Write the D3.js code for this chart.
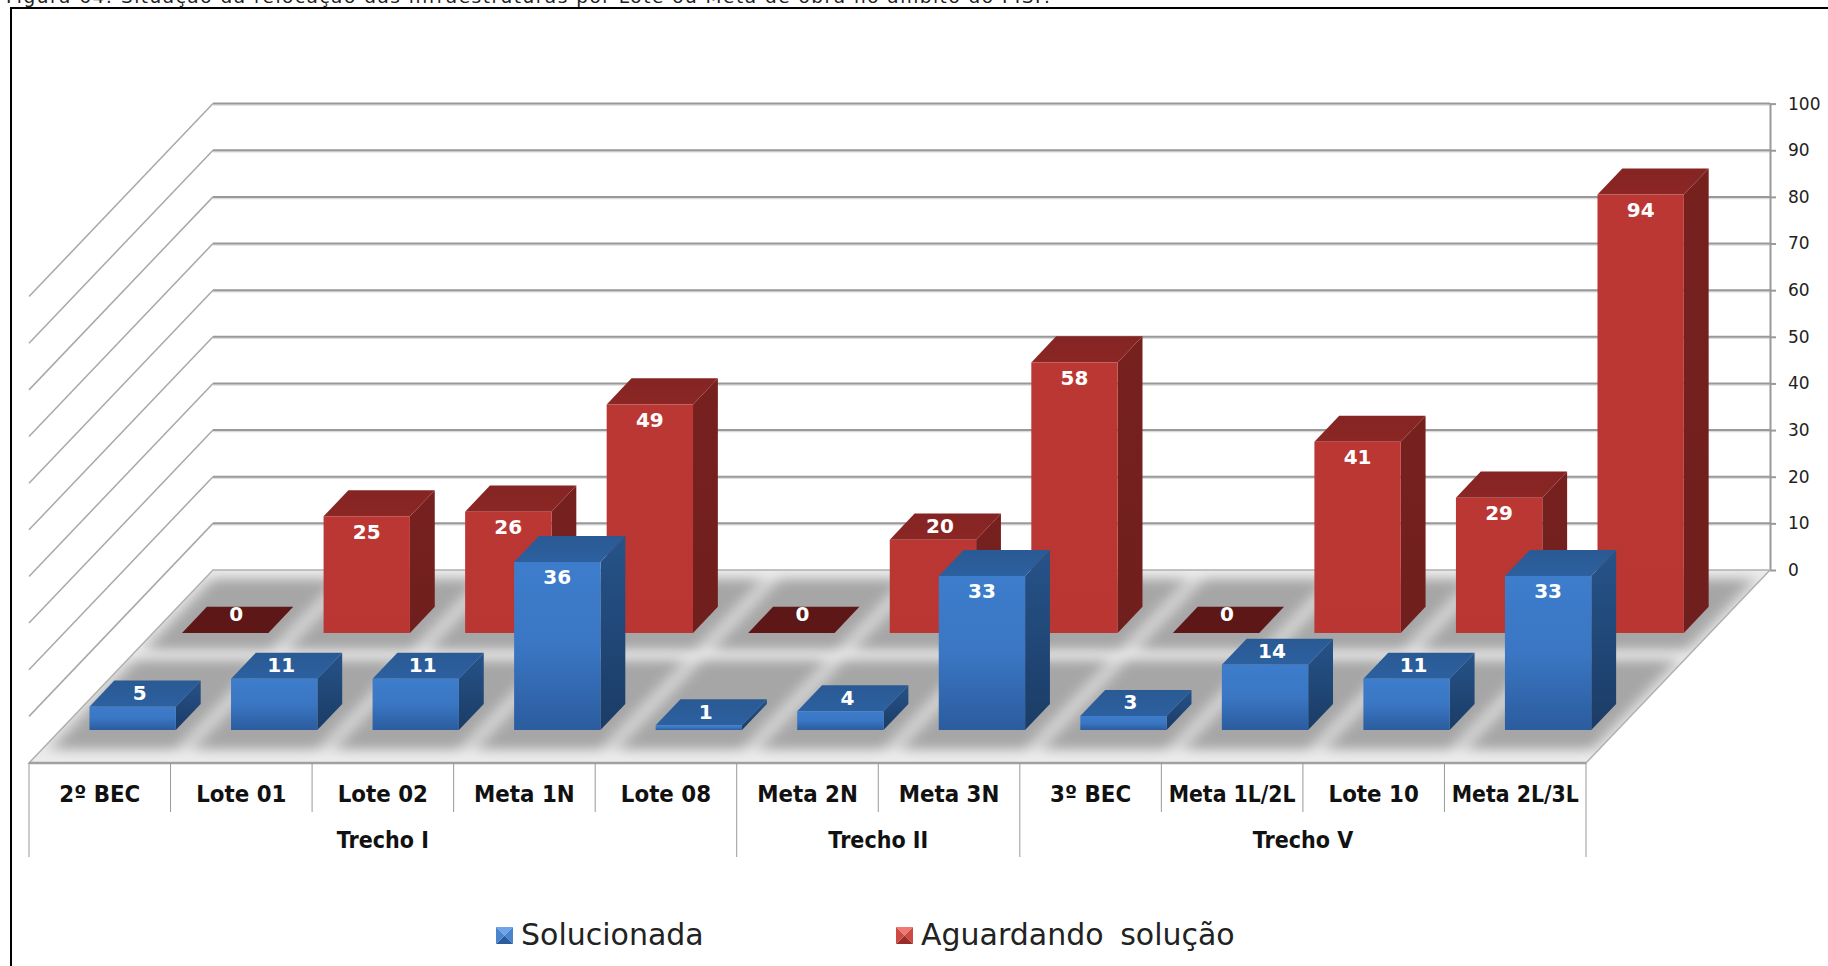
<!DOCTYPE html>
<html>
<head>
<meta charset="utf-8">
<script src="https://cdn.jsdelivr.net/npm/d3@7"></script>
<style>
html, body { margin: 0; padding: 0; background: #fff; overflow: hidden; }
text { font-family: "DejaVu Sans", sans-serif; }
</style>
</head>
<body>
<div id="chart"></div>
<script>
// Données
const categories = ["2º BEC", "Lote 01", "Lote 02", "Meta 1N", "Lote 08", "Meta 2N", "Meta 3N", "3º BEC", "Meta 1L/2L", "Lote 10", "Meta 2L/3L"];
const groups = ["Trecho I", "Trecho II", "Trecho V"];
const groupSizes = [5, 2, 4];
const solucionada = [5, 11, 11, 36, 1, 4, 33, 3, 14, 11, 33];
const aguardando = [0, 25, 26, 49, 0, 20, 58, 0, 41, 29, 94];
const yTicks = [0, 10, 20, 30, 40, 50, 60, 70, 80, 90, 100];
const title = "Figura 64: Situação da relocação das infraestruturas por Lote ou Meta de obra no âmbito do PISF.";

const width = 1828, height = 966;

const svg = d3.select("#chart").append("svg")
    .attr("width", width)
    .attr("height", height)
    .style("display", "block");

// Échelles : catégorie, profondeur du plancher, valeur
const xCat = d3.scaleLinear().domain([0, categories.length]).range([29, 1586]);
const depthX = d3.scaleLinear().domain([0, 1]).range([0, 184]);
const depthY = d3.scaleLinear().domain([0, 1]).range([763, 570]);
const yVal = d3.scaleLinear().domain([0, 100]).range([0, 466.4]);

// u = catégorie, w = profondeur (0 devant, 1 fond), v = valeur
function pt(u, w, v) {
    return [xCat(u) + depthX(w), depthY(w) - yVal(v)];
}
const line = d3.line();
const poly = pts => line(pts) + "Z";

const defs = svg.append("defs");
defs.append("filter").attr("id", "blur").attr("x", "-30%").attr("y", "-30%").attr("width", "160%").attr("height", "160%")
    .append("feGaussianBlur").attr("stdDeviation", "8 6");
defs.append("clipPath").attr("id", "floorClip")
    .append("path").attr("d", poly([pt(0, 0, 0), pt(11, 0, 0), pt(11, 1, 0), pt(0, 1, 0)]));

function gradient(id, stops) {
    const g = defs.append("linearGradient").attr("id", id)
        .attr("x1", 0).attr("y1", 0).attr("x2", 0).attr("y2", 1);
    stops.forEach((c, i) => g.append("stop").attr("offset", i / (stops.length - 1)).attr("stop-color", c));
}
gradient("blueFront", ["#3d7dcc", "#3a76c3", "#2b5c9e"]);
gradient("blueSide", ["#265389", "#1b3c66"]);
gradient("blueTop", ["#2a5a94", "#2c609f"]);
gradient("redFront", ["#bb3733", "#b93632"]);
gradient("redSide", ["#77211f", "#6f1f1d"]);
gradient("redTop", ["#842423", "#8b2725"]);

// Titre coupé en haut de l'image
svg.append("text")
    .attr("x", 6).attr("y", 3)
    .attr("font-size", 18.5)
    .attr("textLength", 1044)
    .attr("fill", "#222")
    .text(title);

// Cadre noir
svg.append("path")
    .attr("d", line([[11, height], [11, 8], [width, 8]]))
    .attr("fill", "none")
    .attr("stroke", "#000")
    .attr("stroke-width", 2);

// Grille : murs du fond et de gauche
const grid = svg.append("g").selectAll("g")
    .data(yTicks.filter(d => d > 0))
    .enter().append("g");
grid.append("path")
    .attr("d", d => line([pt(0, 0, d), pt(0, 1, d)]))
    .attr("fill", "none").attr("stroke", "#a8a8a8").attr("stroke-width", 1.5);
grid.append("path")
    .attr("d", d => line([[pt(0, 1, d)[0], pt(0, 1, d)[1] + 1.5], [pt(11, 1, d)[0], pt(11, 1, d)[1] + 1.5]]))
    .attr("fill", "none").attr("stroke", "#dcdcdc").attr("stroke-width", 1.5);
grid.append("path")
    .attr("d", d => line([pt(0, 1, d), pt(11, 1, d)]))
    .attr("fill", "none").attr("stroke", "#999").attr("stroke-width", 2);

// Axe des valeurs à droite
const yAxisScale = d3.scaleLinear().domain([0, 100]).range([depthY(1), depthY(1) - yVal(100)]);
const yAxis = svg.append("g")
    .attr("transform", `translate(${pt(11, 1, 0)[0]},0)`)
    .call(d3.axisRight(yAxisScale).tickValues(yTicks).tickSize(6).tickSizeOuter(0).tickPadding(12));
yAxis.selectAll("path, line").attr("stroke", "#999").attr("stroke-width", 2);
yAxis.selectAll("text").attr("font-size", 17).attr("fill", "#222").attr("font-family", "DejaVu Sans");

// Plancher
const floor = svg.append("g");
floor.append("path")
    .attr("d", poly([pt(0, 0, 0), pt(11, 0, 0), pt(11, 1, 0), pt(0, 1, 0)]))
    .attr("fill", "#ececec");

const rows = [
    { name: "Aguardando solução", values: aguardando, w0: 0.674, w1: 0.809, s0: 0.585, s1: 0.955, front: "redFront", side: "redSide", top: "redTop" },
    { name: "Solucionada", values: solucionada, w0: 0.171, w1: 0.306, s0: 0.07, s1: 0.535, front: "blueFront", side: "blueSide", top: "blueTop" }
];
const barLeft = 0.205, barRight = 0.815;

// Ombres floues sous les barres
const shadows = floor.append("g").attr("clip-path", "url(#floorClip)");
rows.forEach(r => {
    shadows.append("g").attr("filter", "url(#blur)").selectAll("path")
        .data(categories.map((c, i) => i))
        .enter().append("path")
        .attr("d", i => poly([pt(i + 0.05, r.s0, 0), pt(i + 0.96, r.s0, 0), pt(i + 0.96, r.s1, 0), pt(i + 0.05, r.s1, 0)]))
        .attr("fill", "#a6a6a6");
});

floor.append("path")
    .attr("d", poly([pt(0, 0, 0), pt(11, 0, 0), pt(11, 1, 0), pt(0, 1, 0)]))
    .attr("fill", "none").attr("stroke", "#b0b0b0").attr("stroke-width", 1.5);
floor.append("path")
    .attr("d", line([pt(0, 0, 0), pt(11, 0, 0)]))
    .attr("fill", "none").attr("stroke", "#a0a0a0").attr("stroke-width", 2.5);

// Barres 3D : rangée du fond d'abord
rows.forEach(r => {
    const bars = svg.append("g").selectAll("g")
        .data(r.values.map((v, i) => ({ v, i })))
        .enter().append("g");

    bars.append("path")
        .attr("d", d => poly([pt(d.i + barRight, r.w0, 0), pt(d.i + barRight, r.w1, 0), pt(d.i + barRight, r.w1, d.v), pt(d.i + barRight, r.w0, d.v)]))
        .attr("fill", `url(#${r.side})`);
    bars.append("path")
        .attr("d", d => poly([pt(d.i + barLeft, r.w0, d.v), pt(d.i + barRight, r.w0, d.v), pt(d.i + barRight, r.w1, d.v), pt(d.i + barLeft, r.w1, d.v)]))
        .attr("fill", d => d.v === 0 ? "#5c1716" : `url(#${r.top})`);
    bars.filter(d => d.v > 0).append("path")
        .attr("d", d => poly([pt(d.i + barLeft, r.w0, 0), pt(d.i + barRight, r.w0, 0), pt(d.i + barRight, r.w0, d.v), pt(d.i + barLeft, r.w0, d.v)]))
        .attr("fill", `url(#${r.front})`);

    // Valeurs : sur la face avant si la barre est haute, sinon sur le dessus
    bars.append("text")
        .attr("x", d => pt(d.i + (barLeft + barRight) / 2, r.w0, d.v)[0] + (d.v > 20 ? 0 : (d.v === 0 ? 11 : 7)))
        .attr("y", d => pt(d.i, r.w0, d.v)[1] + (d.v > 20 ? 15 : (d.v === 0 ? -19 : -14)))
        .attr("dy", "0.36em")
        .attr("text-anchor", "middle")
        .attr("font-size", 20)
        .attr("font-weight", "bold")
        .attr("fill", "#fff")
        .text(d => d.v);
});

// Resserre un texte : le rendu d'origine est plus étroit que la police
function squeeze(sel, k) {
    sel.each(function() {
        const w = this.getComputedTextLength();
        d3.select(this).attr("textLength", w * k).attr("lengthAdjust", "spacingAndGlyphs");
    });
}

// Axe des catégories à deux niveaux
const axisTop = pt(0, 0, 0)[1];
const axisG = svg.append("g");
axisG.selectAll(".cat-tick")
    .data(d3.range(0, categories.length + 1))
    .enter().append("line")
    .attr("class", "cat-tick")
    .attr("x1", d => xCat(d)).attr("x2", d => xCat(d))
    .attr("y1", axisTop).attr("y2", axisTop + 49)
    .attr("stroke", "#999").attr("stroke-width", 1);
axisG.selectAll(".cat-label")
    .data(categories)
    .enter().append("text")
    .attr("class", "cat-label")
    .attr("x", (d, i) => xCat(i + 0.5))
    .attr("y", axisTop + 39)
    .attr("text-anchor", "middle")
    .attr("font-weight", "bold")
    .attr("font-size", 23)
    .attr("fill", "#111")
    .text(d => d)
    .call(squeeze, 0.93);
axisG.selectAll(".cat-label")
    .filter(d => d.includes("/"))
    .attr("textLength", 127);

const groupEdges = d3.cumsum([0].concat(groupSizes));
axisG.selectAll(".group-tick")
    .data(groupEdges)
    .enter().append("line")
    .attr("class", "group-tick")
    .attr("x1", d => xCat(d)).attr("x2", d => xCat(d))
    .attr("y1", axisTop + 49).attr("y2", axisTop + 94)
    .attr("stroke", "#999").attr("stroke-width", 1);
axisG.selectAll(".group-label")
    .data(groups)
    .enter().append("text")
    .attr("class", "group-label")
    .attr("x", (d, i) => xCat((groupEdges[i] + groupEdges[i + 1]) / 2))
    .attr("y", axisTop + 85)
    .attr("text-anchor", "middle")
    .attr("font-weight", "bold")
    .attr("font-size", 23)
    .attr("fill", "#111")
    .text(d => d)
    .call(squeeze, 0.9);

// Légende avec petits carrés biseautés
const legendItems = [
    { name: "Solucionada", x: 496, shades: ["#6fa5e6", "#4a84cf", "#2b5c9e", "#4a84cf"] },
    { name: "Aguardando solução", x: 896, shades: ["#f07a72", "#cc4a44", "#9c2c2a", "#cc4a44"] }
];
const sq = 17;
const legend = svg.selectAll(".legend")
    .data(legendItems)
    .enter().append("g")
    .attr("class", "legend")
    .attr("transform", d => `translate(${d.x},927)`);
legend.each(function(d) {
    const corners = [[0, 0], [sq, 0], [sq, sq], [0, sq]];
    d3.select(this).selectAll("path")
        .data(d.shades)
        .enter().append("path")
        .attr("d", (c, i) => poly([corners[i], corners[(i + 1) % 4], [sq / 2, sq / 2]]))
        .attr("fill", c => c);
});
legend.append("text")
    .attr("x", sq + 8)
    .attr("y", 18)
    .attr("font-size", 30)
    .attr("word-spacing", 7)
    .attr("fill", "#222")
    .text(d => d.name);
</script>
</body>
</html>
